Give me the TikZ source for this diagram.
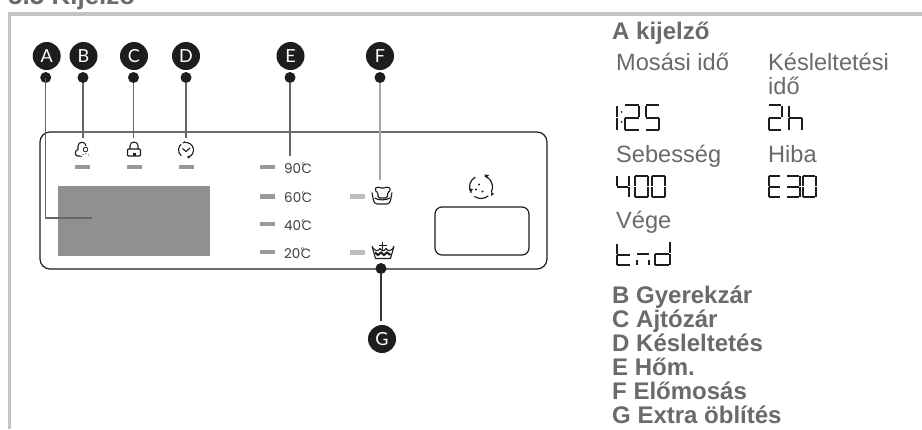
\documentclass[tikz,border=0pt]{standalone}
\usepackage{fontspec}
\setmainfont{Liberation Sans}
\newfontfamily\panelfont{Lato}
\newfontfamily\tempfont{Poppins}
\usetikzlibrary{calc,positioning}
\definecolor{framegrey}{HTML}{C4C4C6}
\definecolor{textgrey}{HTML}{6A6A6B}
\definecolor{ledgrey}{HTML}{9A9898}
\definecolor{paledgrey}{HTML}{BDBDBD}
\definecolor{screengrey}{HTML}{918F8F}
\definecolor{inkblack}{HTML}{1F1C1D}
\tikzset{
  badge/.style={circle,fill=inkblack,text=white,minimum size=28pt,inner sep=0pt,font=\panelfont\fontsize{18}{18}\selectfont},
  tipdot/.style={circle,fill=inkblack,minimum size=11pt,inner sep=0pt},
  leader/.style={line width=1.1pt,draw=black!60},
  ledbar/.style={fill=ledgrey,minimum width=15pt,minimum height=4.5pt,inner sep=0pt},
  templabel/.style={anchor=base west,inner sep=0pt,text=black!75,font=\tempfont\fontsize{13.5}{13.5}\selectfont},
  plainhead/.style={anchor=base west,inner sep=0pt,text=textgrey,font=\fontsize{23.6}{24}\selectfont},
  boldhead/.style={anchor=base west,inner sep=0pt,text=textgrey,font=\fontsize{24}{24}\selectfont\bfseries},
  lcdseg/.style={line width=2pt,draw=inkblack},
  iconline/.style={line width=1.1pt,draw=inkblack,line join=round}
}
% one lcd glyph: x, y, width, height, segments
\newcommand{\lcda}{(0.03,0) -- (0.97,0)}
\newcommand{\lcdb}{(1,0.02) -- (1,0.48)}
\newcommand{\lcdc}{(1,0.52) -- (1,0.98)}
\newcommand{\lcdd}{(0.03,1) -- (0.97,1)}
\newcommand{\lcde}{(0,0.52) -- (0,0.98)}
\newcommand{\lcdf}{(0,0.02) -- (0,0.48)}
\newcommand{\lcdg}{(0.03,0.5) -- (0.97,0.5)}
\newcommand{\lcdchar}[5]{
  \begin{scope}[shift={(#1,#2)},xscale=#3,yscale=#4]
    \foreach \s in {#5} {
      \draw[lcdseg] \csname lcd\s\endcsname;
    }
  \end{scope}
}
\begin{document}
\begin{tikzpicture}[x=1pt,y=-1pt]
  \useasboundingbox (0,0) rectangle (922,429);
  \fill[white] (0,0) rectangle (922,429);
  % page frame and heading
  \node[boldhead,font=\fontsize{26}{26}\selectfont\bfseries] (heading) at (8,4.5) {5.5 Kijelző};
  \draw[framegrey,line width=3.5pt] (9.5,429) -- (9.5,14) -- (922,14);

  % panel
  \draw[line width=1.2pt,draw=inkblack,rounded corners=10pt] (40,132) rectangle (547,269);
  \fill[screengrey] (58,186) rectangle (210,256);
  \draw[line width=1.2pt,draw=inkblack,rounded corners=7pt] (435,207) rectangle (529,255);

  % leds
  \node[ledbar] (ledB) at (82.5,167) {};
  \node[ledbar] (ledC) at (134,167) {};
  \node[ledbar] (ledD) at (186.5,167) {};
  \foreach \n/\y/\t in {90/167/90,60/196.5/60,40/224/40,20/252/20} {
    \node[ledbar] (led\n) at (267.5,\y) {};
    \node[templabel] (temp\n) at (284,\y+6) {\t\kern0.5pt\rlap{\raisebox{5pt}{\fontsize{8}{8}\selectfont°}}C};
  }
  \node[ledbar,fill=paledgrey] (ledF) at (357.5,196.5) {};
  \node[ledbar,fill=paledgrey] (ledG) at (357.5,252.5) {};

  % child lock
  \draw[iconline] (80.5,156) -- (77.5,156) .. controls (74.5,156) and (74.5,150) .. (78,149.5) -- (78,146) .. controls (78,141) and (86,141) .. (86,146);
  \draw[iconline,line width=0.8pt] (85.5,149.5) circle (2.3);
  \draw[iconline,line width=0.8pt,dotted] (81.5,157) .. controls (82,152.5) and (89,152.5) .. (89.5,157);
  % door lock
  \draw[iconline] (130,149) -- (130,145.5) .. controls (130,141) and (138,141) .. (138,145.5) -- (138,149);
  \draw[iconline,rounded corners=1pt] (127.5,149) rectangle (140.5,156);
  \fill[inkblack] (132.5,152.5) rectangle (135.5,156);
  % delay clock
  \draw[iconline] (186,150) ++(-100:7.5) arc[start angle=-100,end angle=70,radius=7.5];
  \fill[inkblack] (188.6,157) circle (1.5);
  \draw[iconline] (186,150) ++(130:7.5) arc[start angle=130,end angle=230,radius=7.5];
  \draw[iconline] (183,143) -- (185,141.5);
  \draw[iconline] (182.5,148.5) -- (186,151.5) -- (190,148);

  % prewash tub
  \draw[iconline] (372,192.5) .. controls (373,197) and (373,204) .. (377,204) -- (387,204) .. controls (391,204) and (391,197) .. (392,192.5);
  \draw[iconline] (374.5,198) .. controls (378,200.5) and (386,200.5) .. (390,198);
  \draw[iconline,fill=white,rounded corners=1.5pt] (377,186.5) -- (380,188) -- (385,188) -- (388,186.5) -- (391,190) -- (387.5,192.5) -- (387.5,198) -- (378,198) -- (378,192.5) -- (374.5,190) -- cycle;
  % extra rinse tub
  \draw[iconline] (372,246) -- (375.5,258.5) -- (390.5,258.5) -- (394,246);
  \draw[iconline] (372.5,247.5) .. controls (375.5,251.5) and (378,251.5) .. (380,248.5) .. controls (382,251.5) and (384,251.5) .. (386,248.5) .. controls (388,251.5) and (390.5,251.5) .. (393.5,247.5);
  \draw[inkblack,line width=2pt] (375,252.5) -- (378,255) -- (381,252.5) -- (384,255) -- (387,252.5) -- (390.5,255);
  \draw[iconline] (382.7,242) -- (382.7,249.5) (379,245.5) -- (386.5,245.5);

  % spin icon
  \draw[iconline,line width=1.2pt] (481,187) ++(-70:11.5) arc[start angle=-70,end angle=25,radius=11.5];
  \draw[iconline,line width=1.2pt] (481,187) ++(50:11.5) arc[start angle=50,end angle=125,radius=11.5];
  \draw[iconline,line width=1.2pt] (481,187) ++(150:11.5) arc[start angle=150,end angle=240,radius=11.5];
  \fill[inkblack] (484,174.5) -- (489,175) -- (486.5,177.5) -- cycle;
  \fill[inkblack] (491,196) -- (491.5,191.5) -- (494,194) -- cycle;
  \fill[inkblack] (469,188.5) -- (473,189) -- (471,192) -- cycle;
  \foreach \p in {(479,184.5),(476,189.5),(482.5,191.5)} {
    \fill[inkblack] \p circle (1.2);
  }

  % badges and their leaders
  \foreach \n/\x/\d in {A/46.7/45.7,B/83.5/83,C/134/133.5,D/186/186,E/290.5/290,F/380/380} {
    \node[badge] (badge\n) at (\x,56) {\n};
    \node[tipdot] (dot\n) at (\d,77.5) {};
  }
  \coordinate (cornerA) at (45.7,218);
  \coordinate (endA) at (92,218);
  \draw[leader] (dotA.center) -- (cornerA) -- (endA);
  \coordinate (endB) at (83,138);
  \coordinate (endC) at (133.5,138);
  \coordinate (endD) at (186,138);
  \coordinate (endE) at (290,156);
  \coordinate (endF) at (380,180);
  \draw[leader] (dotB) -- (endB);
  \draw[leader] (dotC) -- (endC);
  \draw[leader] (dotD) -- (endD);
  \draw[leader] (dotE) -- (endE);
  \draw[leader,draw=black!35] (dotF) -- (endF);
  \node[badge] (badgeG) at (382,339) {G};
  \node[tipdot] (dotG) at (381,268.5) {};
  \coordinate (endG) at (381,321);
  \draw[line width=2pt,draw=black!80] (dotG) -- (endG);

  % right column
  \node[boldhead] (title) at (612,39) {A kijelző};
  \node[plainhead] (washtime) at (616,70) {Mosási idő};
  \node[plainhead] (delaytime) at (768,70) {Késleltetési};
  \node[plainhead] (delaytimeb) at (768,94) {idő};
  \node[plainhead] (speed) at (616,162) {Sebesség};
  \node[plainhead] (fault) at (768,162) {Hiba};
  \node[plainhead] (finish) at (616,228) {Vége};
  \lcdchar{617}{105}{0.01}{25}{b,c}
  \fill[inkblack] (621.5,112) circle (1) (621.5,122) circle (1);
  \lcdchar{625}{105}{14}{25}{a,b,g,e,d}
  \lcdchar{646}{105}{13}{25}{a,f,g,c,d}
  \lcdchar{768.5}{105}{13}{25}{a,b,g,e,d}
  \lcdchar{789}{105}{13}{25}{f,e,g,c}
  \lcdchar{616.5}{176}{12}{21}{f,g,b,c}
  \lcdchar{635}{176}{13}{21}{a,b,c,d,e,f}
  \lcdchar{652}{176}{13}{21}{a,b,c,d,e,f}
  \lcdchar{768.5}{176}{12}{21}{a,f,g,e,d}
  \lcdchar{786.5}{176}{13}{21}{a,b,g,c,d}
  \lcdchar{802.5}{176}{13}{21}{a,b,c,d,e,f}
  \lcdchar{616.5}{244}{14}{21}{f,g,e,d}
  \lcdchar{637}{254}{12}{11}{a,e,c}
  \lcdchar{654.5}{242}{15}{23}{b,c,g,e,d}
  \foreach \n/\y/\t in {B/303/B Gyerekzár,C/327/C Ajtózár,D/351/D Késleltetés,E/375/E Hőm.,F/399/F Előmosás,G/423/G Extra öblítés} {
    \node[boldhead] (item\n) at (612,\y) {\t};
  }
\end{tikzpicture}
\end{document}
